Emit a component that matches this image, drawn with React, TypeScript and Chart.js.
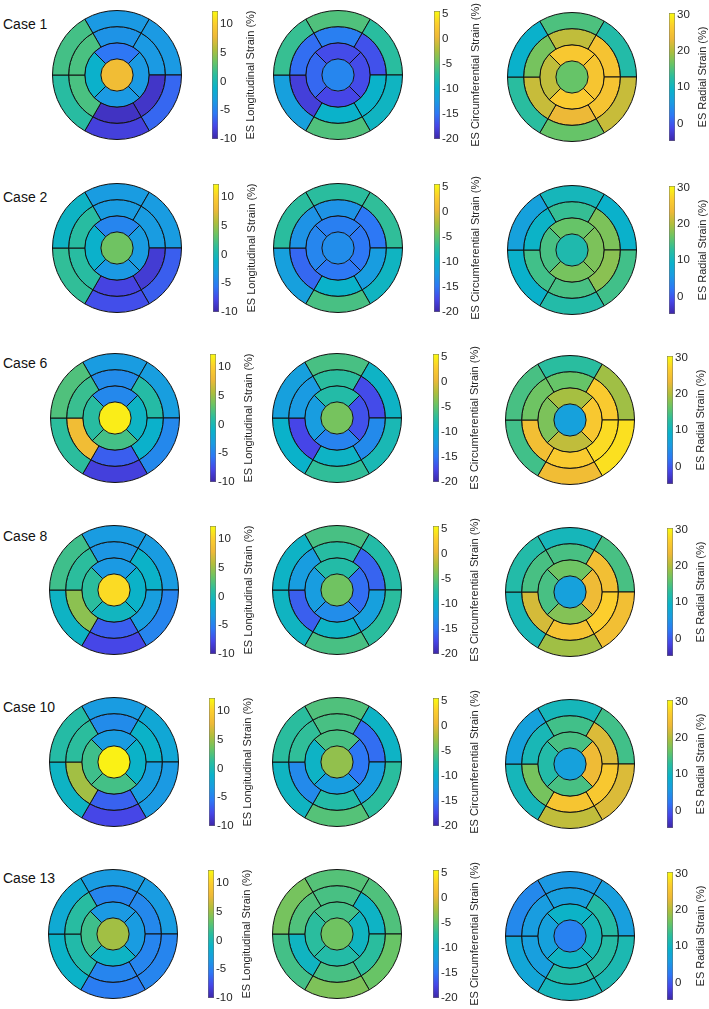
import React, { useEffect, useRef } from "react";
import { Chart, registerables } from "chart.js";

Chart.register(...registerables);

const FONT = '"Liberation Sans", Arial, Helvetica, sans-serif';

// ---------- DATA ----------
const CASE_LABELS = ["Case 1", "Case 2", "Case 6", "Case 8", "Case 10", "Case 13"];
const STRAIN_TITLES = [
  "ES Longitudinal Strain (%)",
  "ES Circumferential Strain (%)",
  "ES Radial Strain (%)",
];
const LONG_TICKS = [-10, -5, 0, 5, 10];
const CIRC_TICKS = [-20, -15, -10, -5, 0, 5];
const RAD_TICKS = [0, 10, 20, 30];
const LONG_RANGE = [-10, 12.3];
const CIRC_RANGE = [-20, 5.5];
const RAD_RANGE = [-4.8, 30.4];

// 17 segment values per bullseye:
// basal  (top, upper-right, lower-right, bottom, lower-left, upper-left)
// mid    (top, upper-right, lower-right, bottom, lower-left, upper-left)
// apical (top, right, bottom, left), apex
const CASE1_LONG = [-3.4, -3.4, -6.3, -8.2, 1, 2.1, -3.8, -3.4, -8.9, -9.1, 2.3, 2.3, -5.6, -3.4, -3.4, -1.2, 8.3];
const CASE1_CIRC = [-5.7, -7.3, -9.3, -5.7, -11.8, -6.7, -14.4, -16.9, -9.8, -9.8, -18, -15.4, -17.2, -17.2, -17.5, -15.7, -13.9];
const CASE1_RAD = [14.8, 12, 21.2, 16.2, 12.7, 9.2, 20.8, 25.1, 25.1, 23.3, 21.2, 17, 25.8, 25.4, 26.2, 20.8, 16.2];

const CASE2_LONG = [-3.2, -3.2, -6.7, -7.4, 1.4, -0.8, -3.2, -3.2, -8.5, -8, 1, 1, -4.7, -3.2, -3.4, -1.2, 3.6];
const CASE2_CIRC = [-7.25, -7, -9.3, -6, -11.8, -7.25, -12.9, -14.9, -12.1, -9.8, -15.7, -12.9, -14.4, -14.9, -14.9, -13.9, -13.4];
const CASE2_RAD = [10.6, 9.2, 14.1, 12, 9.2, 6.7, 13.4, 17.3, 18, 14.5, 14.1, 9.5, 16.2, 17.3, 17, 14.5, 11.6];

const CASE6_LONG = [-3.2, -3, -4.5, -8.2, 1.2, 2.5, -4.3, 0.8, -1.2, -6.7, 8.3, 1.7, -4.5, -0.8, 2.1, 1, 11.6];
const CASE6_CIRC = [-6, -9.5, -8.5, -7, -9.8, -11.8, -7.25, -17.2, -13.6, -9.5, -17.5, -12.35, -7.8, -16.9, -14.1, -12.1, -4.2];
const CASE6_RAD = [12.7, 19.1, 28.3, 24, 14.1, 14.5, 16.2, 26.2, 27.9, 26.2, 24.4, 16.6, 19.4, 25.8, 20.8, 17.3, 6.7];

const CASE8_LONG = [-3.2, -3.2, -4.7, -7.8, -0.8, 1.9, -3.6, -1, -3, -6.7, 4.5, 1.2, -3.4, -1, -0.5, 1.2, 10.7];
const CASE8_CIRC = [-6, -7.8, -7.25, -6, -9.3, -9.5, -7.5, -15.9, -11.8, -9.5, -16.2, -12.1, -7.8, -15.4, -13.4, -12.1, -4.4];
const CASE8_RAD = [10.6, 14.5, 24.4, 19.1, 10.9, 12, 14.5, 24.4, 26.9, 25.1, 21.9, 14.5, 16.6, 23.7, 17.7, 14.5, 6.7];

const CASE10_LONG = [-3.2, -2.1, -3.4, -7.8, -0.8, 0.8, -4.3, -1, -3, -6.5, 5.2, 1.2, -3.2, -1, 2.1, 1.9, 11.8];
const CASE10_CIRC = [-5.7, -9.5, -7.25, -5.5, -9.3, -7.25, -6, -15.4, -12.1, -7.8, -13.6, -7, -6, -14.9, -12.1, -9.5, -3.2];
const CASE10_RAD = [10.6, 14.1, 22.3, 20.8, 10.6, 6.7, 14.1, 22.3, 25.8, 25.4, 17, 10.9, 14.5, 23.7, 14.5, 12, 6.7];

const CASE13_LONG = [-3.2, -3.2, -4.7, -5.2, -1, -1.9, -4.7, -4.5, -4.7, -4.7, 0.6, 1, -3.4, -3.2, -0.8, 1.9, 5.2];
const CASE13_CIRC = [-5.5, -5.7, -4.7, -3.9, -6.2, -4.2, -6, -9.5, -7.25, -6, -9.3, -5.7, -6.2, -9.3, -7.8, -7.25, -4.4];
const CASE13_RAD = [5.6, 6.3, 11.3, 10.6, 7.4, 3.9, 6.3, 12.3, 12.3, 12, 6.3, 6, 9.5, 10.6, 9.9, 6.7, 3.1];

// ---------- STYLE / LAYOUT ----------
const PARULA_STOPS: [number, number, number, number][] = [
  [0.0, 62, 38, 168],
  [0.1, 70, 70, 232],
  [0.2, 45, 120, 245],
  [0.3, 26, 155, 226],
  [0.4, 10, 178, 202],
  [0.5, 42, 189, 158],
  [0.6, 104, 196, 102],
  [0.7, 175, 190, 60],
  [0.8, 238, 185, 55],
  [0.9, 252, 206, 45],
  [1.0, 249, 251, 14],
];

function parula(t: number) {
  const x = Math.max(0, Math.min(1, t));
  for (let i = 1; i < PARULA_STOPS.length; i++) {
    const a = PARULA_STOPS[i - 1];
    const b = PARULA_STOPS[i];
    if (x <= b[0]) {
      const f = (x - a[0]) / (b[0] - a[0]);
      const r = Math.round(a[1] + (b[1] - a[1]) * f);
      const g = Math.round(a[2] + (b[2] - a[2]) * f);
      const bl = Math.round(a[3] + (b[3] - a[3]) * f);
      return `rgb(${r},${g},${bl})`;
    }
  }
  return "rgb(249,251,14)";
}

const colorFor = (v: number, range: number[]) => parula((v - range[0]) / (range[1] - range[0]));

const ROWS = [
  [CASE1_LONG, CASE1_CIRC, CASE1_RAD],
  [CASE2_LONG, CASE2_CIRC, CASE2_RAD],
  [CASE6_LONG, CASE6_CIRC, CASE6_RAD],
  [CASE8_LONG, CASE8_CIRC, CASE8_RAD],
  [CASE10_LONG, CASE10_CIRC, CASE10_RAD],
  [CASE13_LONG, CASE13_CIRC, CASE13_RAD],
];
const RANGES = [LONG_RANGE, CIRC_RANGE, RAD_RANGE];
const TICKS = [LONG_TICKS, CIRC_TICKS, RAD_TICKS];

const ROW_CY = [75, 248, 418, 590, 762, 934];
const ROW_LABEL_BASE = [28.7, 202, 368, 541, 712, 883];
const COL_CX = [116.5, 338, 571.5];
const COL_DY = [0, 0, 1.5];
const ROW_DX = [
  [0, 0, 0],
  [0.5, 0, 0],
  [-2, -1, -2],
  [-2.5, -1, -2],
  [-3, -1, -2],
  [-4, -1, -2],
];
const CB_DX = [95.8, 96, 97.5];
const TITLE_DX = [27, 30, 22];
const BULL_SIZE = 130;

function Bullseye({ values, range, cx, cy }: { values: number[]; range: number[]; cx: number; cy: number }) {
  const ref = useRef<HTMLCanvasElement | null>(null);
  useEffect(() => {
    const rings = [values.slice(0, 6), values.slice(6, 12), values.slice(12, 16), values.slice(16, 17)];
    const rot = [-30, -30, -45, 0];
    const chart = new Chart(ref.current as HTMLCanvasElement, {
      type: "doughnut",
      data: {
        labels: ["1", "2", "3", "4", "5", "6"],
        datasets: rings.map((r, i) => ({
          data: r.map(() => 1),
          backgroundColor: r.map((v) => colorFor(v, range)),
          borderColor: "#111111",
          borderWidth: i === 3 ? 0 : 1,
          rotation: rot[i],
          hoverOffset: 0,
          weight: 1,
        })),
      } as any,
      options: {
        responsive: false,
        animation: false,
        events: [],
        cutout: 0,
        layout: { padding: 0 },
        plugins: { legend: { display: false }, tooltip: { enabled: false } },
      } as any,
    });
    return () => chart.destroy();
  }, []);
  return (
    <canvas
      ref={ref}
      width={BULL_SIZE}
      height={BULL_SIZE}
      style={{
        position: "absolute",
        left: cx - BULL_SIZE / 2,
        top: cy - BULL_SIZE / 2,
        width: BULL_SIZE,
        height: BULL_SIZE,
      }}
    />
  );
}

function ColorBar({
  range,
  ticks,
  title,
  left,
  top,
  height,
  titleDx,
}: {
  range: number[];
  ticks: number[];
  title: string;
  left: number;
  top: number;
  height: number;
  titleDx: number;
}) {
  const ref = useRef<HTMLCanvasElement | null>(null);
  const PAD_L = 2;
  const PAD_V = 9;
  const BAR_W = 6;
  const AXIS_W = 58;
  const W = PAD_L + BAR_W + AXIS_W;
  const H = height + 2 * PAD_V;
  useEffect(() => {
    const titlePlugin = {
      id: "cbTitle",
      afterDraw(chart: any) {
        const { ctx, chartArea: a } = chart;
        ctx.save();
        ctx.translate(a.right + titleDx, (a.top + a.bottom) / 2);
        ctx.rotate(-Math.PI / 2);
        ctx.font = `11px ${FONT}`;
        ctx.fillStyle = "#262626";
        ctx.textAlign = "center";
        ctx.textBaseline = "top";
        ctx.fillText(title, 0, 0);
        ctx.restore();
      },
    };
    const chart = new Chart(ref.current as HTMLCanvasElement, {
      type: "bar",
      data: {
        labels: [title],
        datasets: [
          {
            data: [[range[0], range[1]]],
            backgroundColor: (c: any) => {
              const ch = c.chart;
              const a = ch.chartArea;
              if (!a) return "#888";
              const g = ch.ctx.createLinearGradient(0, a.bottom, 0, a.top);
              PARULA_STOPS.forEach((s) => g.addColorStop(s[0], `rgb(${s[1]},${s[2]},${s[3]})`));
              return g;
            },
            borderColor: "#6e6e6e",
            borderWidth: 0.8,
            borderSkipped: false,
            barPercentage: 1,
            categoryPercentage: 1,
          },
        ],
      } as any,
      options: {
        responsive: false,
        animation: false,
        events: [],
        layout: { padding: { left: PAD_L, right: 0, top: PAD_V, bottom: PAD_V } },
        plugins: { legend: { display: false }, tooltip: { enabled: false } },
        scales: {
          x: { display: false },
          y: {
            position: "right",
            min: range[0],
            max: range[1],
            afterBuildTicks: (s: any) => {
              s.ticks = ticks.map((v) => ({ value: v }));
            },
            afterFit: (s: any) => {
              s.width = AXIS_W;
            },
            grid: { display: false, drawTicks: false },
            border: { display: false },
            ticks: {
              autoSkip: false,
              padding: 2,
              color: "#262626",
              font: { family: FONT, size: 11.5 },
              callback: (v: any) => String(v),
            },
          },
        },
      } as any,
      plugins: [titlePlugin],
    });
    return () => chart.destroy();
  }, []);
  return (
    <canvas
      ref={ref}
      width={W}
      height={H}
      style={{ position: "absolute", left: left - PAD_L, top: top - PAD_V, width: W, height: H }}
    />
  );
}

export default function App() {
  const items: React.ReactNode[] = [];
  ROWS.forEach((row, ri) => {
    items.push(
      <div
        key={`lbl${ri}`}
        style={{
          position: "absolute",
          left: 3,
          top: ROW_LABEL_BASE[ri] - 12.2,
          fontFamily: FONT,
          fontSize: 14,
          lineHeight: "14px",
          color: "#111",
          whiteSpace: "nowrap",
        }}
      >
        {CASE_LABELS[ri]}
      </div>
    );
    row.forEach((vals, ci) => {
      const cx = COL_CX[ci] + ROW_DX[ri][ci];
      const cy = ROW_CY[ri] + COL_DY[ci];
      items.push(<Bullseye key={`b${ri}-${ci}`} values={vals} range={RANGES[ci]} cx={cx} cy={cy} />);
      items.push(
        <ColorBar
          key={`c${ri}-${ci}`}
          range={RANGES[ci]}
          ticks={TICKS[ci]}
          title={STRAIN_TITLES[ci]}
          left={cx + CB_DX[ci]}
          top={cy - 64}
          height={128}
          titleDx={TITLE_DX[ci]}
        />
      );
    });
  });
  return (
    <div
      style={{
        position: "absolute",
        left: 0,
        top: 0,
        width: 709,
        height: 1009,
        background: "#fff",
        overflow: "hidden",
      }}
    >
      {items}
    </div>
  );
}
